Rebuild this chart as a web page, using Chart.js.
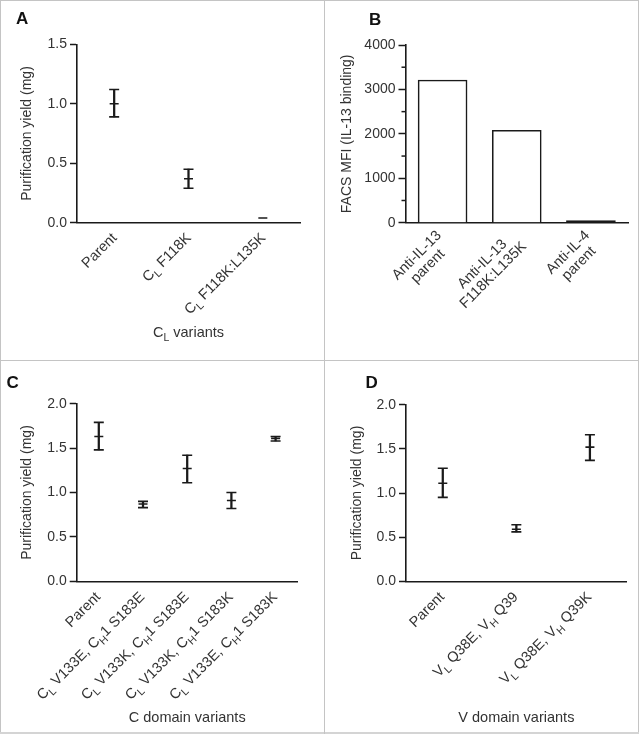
<!DOCTYPE html>
<html>
<head>
<meta charset="utf-8">
<script src="https://cdn.jsdelivr.net/npm/chart.js@4.4.0/dist/chart.umd.min.js"></script>
<style>
body { margin: 0; background: #fff; }
#fig { position: relative; width: 639px; height: 734px; overflow: hidden; font-family: "Liberation Sans", Arial, sans-serif; }
canvas { position: absolute; }
.rule { position: absolute; background: #c4c4c4; }
.tag { position: absolute; font-weight: bold; font-size: 17px; line-height: 17px; color: #111; }
</style>
</head>
<body>
<div id="fig">
  <canvas id="chartA" width="324" height="360" style="left:0;top:0"></canvas>
  <canvas id="chartB" width="315" height="360" style="left:324px;top:0"></canvas>
  <canvas id="chartC" width="324" height="374" style="left:0;top:360px"></canvas>
  <canvas id="chartD" width="315" height="374" style="left:324px;top:360px"></canvas>

  <div class="rule" style="left:0;top:0;width:639px;height:1px"></div>
  <div class="rule" style="left:0;top:0;width:1px;height:734px"></div>
  <div class="rule" style="left:638px;top:0;width:1px;height:734px"></div>
  <div class="rule" style="left:0;top:732px;width:639px;height:2px;background:#d4d4d4"></div>
  <div class="rule" style="left:324px;top:0;width:1px;height:734px"></div>
  <div class="rule" style="left:0;top:360px;width:639px;height:1px"></div>

  <div class="tag" style="left:16px;top:10px">A</div>
  <div class="tag" style="left:369px;top:11px">B</div>
  <div class="tag" style="left:6.5px;top:374px">C</div>
  <div class="tag" style="left:365.5px;top:374px">D</div>
</div>
<script>
var FONT = '"Liberation Sans", Arial, sans-serif';
var INK = '#1a1a1a';
var TXT = '#333333';

// A - purification yield, C_L variants
var labelsA = ['Parent', 'C_{L} F118K', 'C_{L} F118K:L135K'];
var meanA = [1.00, 0.37, 0.04];
var lowA = [0.89, 0.29, null];
var highA = [1.12, 0.45, null];
var yTicksA = [0, 0.5, 1.0, 1.5];

// B - FACS binding
var labelsB = [['Anti-IL-13', 'parent'], ['Anti-IL-13', 'F118K:L135K'], ['Anti-IL-4', 'parent']];
var valuesB = [3210, 2080, 45];
var yTicksB = [0, 1000, 2000, 3000, 4000];
var minorTicksB = [500, 1500, 2500, 3500];

// C - C domain variants
var labelsC = ['Parent', 'C_{L} V133E, C_{H}1 S183E', 'C_{L} V133K, C_{H}1 S183E', 'C_{L} V133K, C_{H}1 S183K', 'C_{L} V133E, C_{H}1 S183K'];
var meanC = [1.63, 0.87, 1.27, 0.91, 1.61];
var lowC = [1.48, 0.83, 1.11, 0.82, 1.58];
var highC = [1.79, 0.90, 1.42, 1.00, 1.63];
var yTicksC = [0, 0.5, 1.0, 1.5, 2.0];

// D - V domain variants
var labelsD = ['Parent', 'V_{L} Q38E, V_{H} Q39', 'V_{L} Q38E, V_{H} Q39K'];
var meanD = [1.11, 0.59, 1.52];
var lowD = [0.95, 0.56, 1.37];
var highD = [1.28, 0.64, 1.66];
var yTicksD = [0, 0.5, 1.0, 1.5, 2.0];

// "C_{L} xx" -> pieces with subscripts
function pieces(str) {
  var out = [], re = /_\{([^}]*)\}/g, last = 0, m;
  while ((m = re.exec(str))) {
    if (m.index > last) out.push({t: str.slice(last, m.index), sub: false});
    out.push({t: m[1], sub: true});
    last = re.lastIndex;
  }
  if (last < str.length) out.push({t: str.slice(last), sub: false});
  return out;
}
function richWidth(ctx, str, size) {
  var w = 0;
  pieces(str).forEach(function(p) {
    ctx.font = (p.sub ? size * 0.72 : size) + 'px ' + FONT;
    w += ctx.measureText(p.t).width;
  });
  return w;
}
function drawRich(ctx, str, x, y, size) {
  pieces(str).forEach(function(p) {
    ctx.font = (p.sub ? size * 0.72 : size) + 'px ' + FONT;
    ctx.fillText(p.t, x, y + (p.sub ? size * 0.28 : 0));
    x += ctx.measureText(p.t).width;
  });
}

// rotated category labels, x title and minor y ticks
var axisText = {
  id: 'axisText',
  afterDraw: function(chart, args, o) {
    var ctx = chart.ctx, xs = chart.scales.x, ys = chart.scales.y;
    ctx.save();
    ctx.fillStyle = TXT;
    ctx.textAlign = 'left';
    ctx.textBaseline = 'alphabetic';
    chart.data.labels.forEach(function(lab, i) {
      var lines = Array.isArray(lab) ? lab : [lab];
      var ws = lines.map(function(l) { return richWidth(ctx, l, o.size); });
      var W = Math.max.apply(null, ws);
      ctx.save();
      ctx.translate(xs.getPixelForValue(i) + o.dx, xs.top + o.gap);
      ctx.rotate(-Math.PI / 4);
      lines.forEach(function(l, k) {
        drawRich(ctx, l, -W / 2 - ws[k] / 2, o.size * 0.72 + k * o.lineHeight, o.size);
      });
      ctx.restore();
    });
    if (o.title) {
      var tw = richWidth(ctx, o.title, 14.5);
      drawRich(ctx, o.title, (xs.left + xs.right) / 2 - tw / 2, o.titleY + 14.5 * 0.36, 14.5);
    }
    if (o.minor) {
      ctx.strokeStyle = INK;
      ctx.lineWidth = 1.5;
      o.minor.forEach(function(v) {
        var y = ys.getPixelForValue(v);
        ctx.beginPath();
        ctx.moveTo(ys.right - 4, y);
        ctx.lineTo(ys.right, y);
        ctx.stroke();
      });
    }
    ctx.restore();
  }
};

function yScale(ticks, title, width, fmt) {
  return {
    min: ticks[0],
    max: ticks[ticks.length - 1],
    afterBuildTicks: function(s) { s.ticks = ticks.map(function(v) { return {value: v}; }); },
    afterFit: function(s) { s.width = width; },
    border: {display: true, color: INK, width: 1.6},
    grid: {drawOnChartArea: false, drawTicks: true, tickLength: 7, tickColor: INK, tickWidth: 1.5},
    ticks: {color: TXT, font: {family: FONT, size: 14}, padding: 3, callback: fmt},
    title: {display: true, text: title, color: TXT, font: {family: FONT, size: 14}, padding: 0}
  };
}
function xScale(height) {
  return {
    type: 'category',
    afterFit: function(s) { s.height = height; },
    border: {display: true, color: INK, width: 1.6},
    grid: {display: false},
    ticks: {display: false}
  };
}
function errorSets(mean, low, high) {
  var cap = {type: 'line', showLine: false, pointStyle: 'line', pointRadius: 5, pointBorderWidth: 1.6, pointBorderColor: INK, borderColor: INK};
  return [
    {type: 'bar', data: low.map(function(l, i) { return l === null ? null : [l, high[i]]; }), backgroundColor: INK, borderWidth: 0, barThickness: 1.6},
    Object.assign({data: high}, cap),
    Object.assign({data: low}, cap),
    Object.assign({data: mean}, cap, {pointRadius: 4.5})
  ];
}
function fixed1(v) { return v.toFixed(1); }

function makeChart(id, labels, datasets, y, x, padding, textOpts) {
  return new Chart(document.getElementById(id), {
    type: 'bar',
    data: {labels: labels, datasets: datasets},
    options: {
      responsive: false,
      animation: false,
      events: [],
      layout: {padding: padding},
      plugins: {legend: {display: false}, tooltip: {enabled: false}, axisText: textOpts},
      scales: {x: x, y: y}
    },
    plugins: [axisText]
  });
}

makeChart('chartA', labelsA, errorSets(meanA, lowA, highA),
  yScale(yTicksA, 'Purification yield (mg)', 58, fixed1), xScale(137.3),
  {left: 19, right: 24, top: 44.3, bottom: 0},
  {size: 14.5, dx: -4, gap: 8.5, lineHeight: 15.5, title: 'C_{L} variants', titleY: 331.7});

// a bar only a couple of pixels tall shows as a solid outline
makeChart('chartB', labelsB,
  [{data: valuesB, borderColor: INK, borderWidth: 1.6, barThickness: 49,
    backgroundColor: function(c) { return c.raw < 100 ? INK : '#ffffff'; }}],
  yScale(yTicksB, 'FACS MFI (IL-13 binding)', 66.5, function(v) { return v; }), xScale(137.3),
  {left: 15, right: 11, top: 45, bottom: 0},
  {size: 14.5, dx: -8, gap: 6, lineHeight: 15.5, minor: minorTicksB});

makeChart('chartC', labelsC, errorSets(meanC, lowC, highC),
  yScale(yTicksC, 'Purification yield (mg)', 57.7, fixed1), xScale(152.7),
  {left: 19, right: 26.3, top: 43.7, bottom: 0},
  {size: 14.5, dx: -5, gap: 9, lineHeight: 15.5, title: 'C domain variants', titleY: 357});

makeChart('chartD', labelsD, errorSets(meanD, lowD, highD),
  yScale(yTicksD, 'Purification yield (mg)', 57, fixed1), xScale(152.7),
  {left: 25, right: 12.3, top: 44.7, bottom: 0},
  {size: 14.5, dx: -5, gap: 9, lineHeight: 15.5, title: 'V domain variants', titleY: 357});
</script>
</body>
</html>
